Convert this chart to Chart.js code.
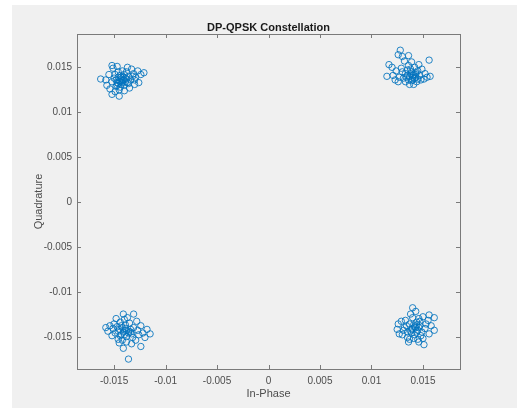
<!DOCTYPE html>
<html>
<head>
<meta charset="utf-8">
<script src="https://cdn.jsdelivr.net/npm/chart.js@4.4.1/dist/chart.umd.min.js"></script>
<style>
  html, body { margin: 0; padding: 0; background: #fff; }
  #wrap { position: absolute; left: 12px; top: 5px; width: 505px; height: 403px; background: #f0f0f0; }
  canvas { display: block; }
</style>
</head>
<body>
<div id="wrap"><canvas id="constChart" width="505" height="403"></canvas></div>
<script>
// tick values and labels, as shown on the axes
const xTicks = [-0.015, -0.01, -0.005, 0, 0.005, 0.01, 0.015];
const xTickLabels = ['-0.015', '-0.01', '-0.005', '0', '0.005', '0.01', '0.015'];
const yTicks = [-0.015, -0.01, -0.005, 0, 0.005, 0.01, 0.015];
const yTickLabels = ['-0.015', '-0.01', '-0.005', '0', '0.005', '0.01', '0.015'];

// received symbols per quadrant (In-Phase / Quadrature)
const topLeftI = [-0.0143, -0.0145, -0.0141, -0.0147, -0.0139, -0.0144, -0.0150, -0.0136, -0.0148, -0.0140,
  -0.0152, -0.0134, -0.0146, -0.0138, -0.0155, -0.0131, -0.0129, -0.0151, -0.0152, -0.0147, -0.0163, -0.0121,
  -0.0124, -0.0126, -0.0149, -0.0152, -0.0145, -0.0140, -0.0135, -0.0130, -0.0157, -0.0154, -0.0137, -0.0133,
  -0.0127, -0.0142, -0.0149, -0.0146, -0.0142, -0.0138, -0.0144, -0.0132, -0.0148, -0.0140, -0.0143, -0.0136,
  -0.0145, -0.0158, -0.0130, -0.0142, -0.0146, -0.0139, -0.0144, -0.0141, -0.0147, -0.0137, -0.0143];
const topLeftQ = [0.0137, 0.0135, 0.0139, 0.0133, 0.0134, 0.0141, 0.0138, 0.0140, 0.0129, 0.0130,
  0.0134, 0.0136, 0.0145, 0.0145, 0.0142, 0.0143, 0.0139, 0.0149, 0.0152, 0.0151, 0.0137, 0.0144,
  0.0142, 0.0133, 0.0123, 0.0120, 0.0118, 0.0124, 0.0127, 0.0131, 0.0130, 0.0126, 0.0150, 0.0148,
  0.0146, 0.0146, 0.0142, 0.0139, 0.0133, 0.0137, 0.0128, 0.0140, 0.0136, 0.0142, 0.0131, 0.0132,
  0.0125, 0.0136, 0.0136, 0.0135, 0.0132, 0.0138, 0.0134, 0.0136, 0.0130, 0.0133, 0.0139];

const topRightI = [0.0128, 0.0126, 0.0136, 0.0130, 0.0156, 0.0117, 0.0115, 0.0137, 0.0157, 0.0139,
  0.0141, 0.0135, 0.0143, 0.0137, 0.0145, 0.0133, 0.0140, 0.0147, 0.0131, 0.0142, 0.0136, 0.0149,
  0.0124, 0.0121, 0.0127, 0.0129, 0.0152, 0.0151, 0.0144, 0.0133, 0.0126, 0.0120, 0.0146, 0.0139,
  0.0132, 0.0148, 0.0138, 0.0143, 0.0134, 0.0141, 0.0130, 0.0154, 0.0123, 0.0140, 0.0136, 0.0142,
  0.0138, 0.0145, 0.0140, 0.0135, 0.0143, 0.0139];
const topRightQ = [0.0169, 0.0164, 0.0163, 0.0162, 0.0158, 0.0153, 0.0140, 0.0131, 0.0140, 0.0145,
  0.0142, 0.0147, 0.0139, 0.0140, 0.0146, 0.0143, 0.0136, 0.0141, 0.0138, 0.0150, 0.0152, 0.0148,
  0.0146, 0.0141, 0.0139, 0.0149, 0.0143, 0.0137, 0.0134, 0.0134, 0.0134, 0.0150, 0.0153, 0.0156,
  0.0157, 0.0136, 0.0148, 0.0144, 0.0139, 0.0131, 0.0145, 0.0139, 0.0136, 0.0141, 0.0136, 0.0138,
  0.0143, 0.0137, 0.0139, 0.0141, 0.0142, 0.0135];

const bottomLeftI = [-0.0141, -0.0131, -0.0154, -0.0115, -0.0136, -0.0141, -0.0124, -0.0138, -0.0141, -0.0139,
  -0.0143, -0.0136, -0.0145, -0.0138, -0.0133, -0.0147, -0.0131, -0.0149, -0.0127, -0.0144, -0.0135, -0.0151,
  -0.0122, -0.0120, -0.0146, -0.0129, -0.0152, -0.0140, -0.0128, -0.0148, -0.0156, -0.0132, -0.0142, -0.0126,
  -0.0137, -0.0145, -0.0133, -0.0150, -0.0139, -0.0124, -0.0146, -0.0134, -0.0158, -0.0118, -0.0143, -0.0140,
  -0.0136, -0.0142, -0.0138, -0.0134, -0.0144];
const bottomLeftQ = [-0.0124, -0.0124, -0.0137, -0.0146, -0.0174, -0.0162, -0.0160, -0.0155, -0.0144, -0.0140,
  -0.0147, -0.0143, -0.0141, -0.0149, -0.0146, -0.0138, -0.0139, -0.0145, -0.0142, -0.0133, -0.0134, -0.0140,
  -0.0145, -0.0150, -0.0152, -0.0153, -0.0148, -0.0130, -0.0132, -0.0129, -0.0143, -0.0150, -0.0153, -0.0147,
  -0.0128, -0.0156, -0.0157, -0.0135, -0.0136, -0.0137, -0.0143, -0.0141, -0.0139, -0.0141, -0.0137, -0.0147,
  -0.0145, -0.0139, -0.0142, -0.0144, -0.0148];

const bottomRightI = [0.0140, 0.0156, 0.0161, 0.0126, 0.0151, 0.0161, 0.0135, 0.0127, 0.0143, 0.0141,
  0.0145, 0.0139, 0.0147, 0.0137, 0.0144, 0.0149, 0.0135, 0.0146, 0.0140, 0.0132, 0.0152, 0.0133,
  0.0148, 0.0142, 0.0138, 0.0153, 0.0130, 0.0145, 0.0156, 0.0141, 0.0129, 0.0158, 0.0136, 0.0150,
  0.0143, 0.0147, 0.0131, 0.0155, 0.0139, 0.0144, 0.0134, 0.0150, 0.0125, 0.0146, 0.0137, 0.0142,
  0.0140, 0.0144, 0.0138, 0.0146];
const bottomRightQ = [-0.0117, -0.0125, -0.0128, -0.0135, -0.0158, -0.0142, -0.0150, -0.0146, -0.0139, -0.0136,
  -0.0142, -0.0141, -0.0137, -0.0135, -0.0133, -0.0144, -0.0144, -0.0129, -0.0128, -0.0139, -0.0140, -0.0131,
  -0.0148, -0.0147, -0.0124, -0.0135, -0.0147, -0.0152, -0.0146, -0.0151, -0.0132, -0.0137, -0.0155, -0.0151,
  -0.0121, -0.0132, -0.0142, -0.0131, -0.0145, -0.0144, -0.0137, -0.0127, -0.0141, -0.0155, -0.0152, -0.0138,
  -0.0140, -0.0136, -0.0143, -0.0139];

const toPoints = (iv, qv) => iv.map((x, k) => ({ x: x, y: qv[k] }));
const symbols = [].concat(
  toPoints(topLeftI, topLeftQ),
  toPoints(topRightI, topRightQ),
  toPoints(bottomLeftI, bottomLeftQ),
  toPoints(bottomRightI, bottomRightQ)
);

const axisColor = '#7a7a7a';
const labelColor = '#4d4d4d';
const fontFamily = '"Liberation Sans", Arial, sans-serif';

// MATLAB style box: inward ticks on all four sides + title
const boxPlugin = {
  id: 'box',
  afterDraw(chart) {
    const ctx = chart.ctx;
    const a = chart.chartArea;
    const xs = chart.scales.x, ys = chart.scales.y;
    ctx.save();
    ctx.strokeStyle = axisColor;
    ctx.lineWidth = 1;
    ctx.strokeRect(Math.round(a.left) + 0.5, Math.round(a.top) + 0.5,
      Math.round(a.right - a.left), Math.round(a.bottom - a.top));
    ctx.beginPath();
    xTicks.forEach(v => {
      const px = Math.round(xs.getPixelForValue(v)) + 0.5;
      ctx.moveTo(px, a.bottom); ctx.lineTo(px, a.bottom - 4);
      ctx.moveTo(px, a.top); ctx.lineTo(px, a.top + 4);
    });
    yTicks.forEach(v => {
      const py = Math.round(ys.getPixelForValue(v)) + 0.5;
      ctx.moveTo(a.left, py); ctx.lineTo(a.left + 4, py);
      ctx.moveTo(a.right, py); ctx.lineTo(a.right - 4, py);
    });
    ctx.stroke();
    ctx.fillStyle = '#1a1a1a';
    ctx.font = 'bold 11px ' + fontFamily;
    ctx.textAlign = 'center';
    ctx.textBaseline = 'alphabetic';
    ctx.fillText('DP-QPSK Constellation', (a.left + a.right) / 2, a.top - 3);
    ctx.restore();
  }
};

const chartCtx = document.getElementById('constChart').getContext('2d');
new Chart(chartCtx, {
  type: 'scatter',
  data: {
    datasets: [{
      label: 'DP-QPSK',
      data: symbols,
      pointStyle: 'circle',
      pointRadius: 3.2,
      pointBorderWidth: 1,
      borderColor: 'rgba(0, 114, 189, 0.85)',
      backgroundColor: 'rgba(0, 0, 0, 0)'
    }]
  },
  options: {
    responsive: false,
    animation: false,
    layout: { padding: { left: 0, right: 57, top: 29, bottom: 0 } },
    plugins: {
      legend: { display: false },
      tooltip: { enabled: false }
    },
    scales: {
      x: {
        type: 'linear',
        min: -0.0186,
        max: 0.0186,
        afterFit(scale) { scale.height = 39; },
        afterBuildTicks(scale) { scale.ticks = xTicks.map(v => ({ value: v })); },
        grid: { display: false, drawTicks: false },
        border: { display: false },
        ticks: {
          padding: 6,
          color: labelColor,
          font: { family: fontFamily, size: 10 },
          maxRotation: 0,
          autoSkip: false,
          callback: (v, i) => xTickLabels[i]
        },
        title: {
          display: true,
          text: 'In-Phase',
          color: labelColor,
          font: { family: fontFamily, size: 11 },
          padding: { top: 0, bottom: 7 }
        }
      },
      y: {
        type: 'linear',
        min: -0.0185,
        max: 0.0187,
        afterFit(scale) { scale.width = 65; },
        afterBuildTicks(scale) { scale.ticks = yTicks.map(v => ({ value: v })); },
        grid: { display: false, drawTicks: false },
        border: { display: false },
        ticks: {
          padding: 5,
          color: labelColor,
          font: { family: fontFamily, size: 10 },
          autoSkip: false,
          callback: (v, i) => yTickLabels[i]
        },
        title: {
          display: true,
          text: 'Quadrature',
          color: labelColor,
          font: { family: fontFamily, size: 11 },
          padding: { top: 20, bottom: 0 }
        }
      }
    }
  },
  plugins: [boxPlugin]
});
</script>
</body>
</html>
